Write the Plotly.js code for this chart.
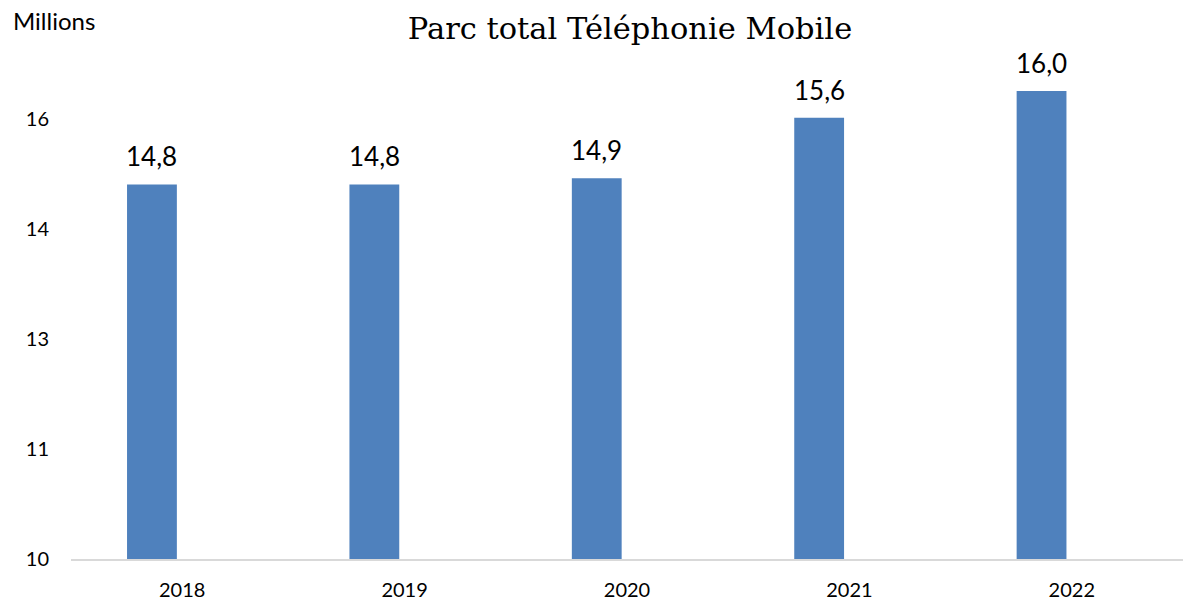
<!DOCTYPE html>
<html>
<head>
<meta charset="utf-8">
<script src="https://cdn.plot.ly/plotly-3.0.1.min.js"></script>
<style>html,body{margin:0;padding:0;background:#fff;}#chart{width:1183px;height:600px;}</style>
</head>
<body>
<div id="chart"></div>
<script>
var years = ['2018', '2019', '2020', '2021', '2022'];
var parc = [14.77, 14.77, 14.85, 15.62, 15.96];
var labels = ['14,8', '14,8', '14,9', '15,6', '16,0'];
var chartTitle = 'Parc total Téléphonie Mobile';
var unitLabel = 'Millions';

var barWidth = 0.224;
var barOffset = -0.248;

var trace = {
  type: 'bar',
  x: years,
  y: parc,
  width: barWidth,
  offset: barOffset,
  marker: {color: '#4F81BD'},
  hoverinfo: 'skip'
};

var annotations = years.map(function (yr, i) {
  return {
    x: i + barOffset + barWidth / 2,
    y: parc[i],
    xref: 'x', yref: 'y',
    text: labels[i],
    showarrow: false,
    yanchor: 'bottom',
    yshift: 10,
    font: {family: 'Lato, sans-serif', size: 26, color: '#000'}
  };
});
annotations.push({
  xref: 'paper', yref: 'paper',
  x: (11 - 71) / 1112, y: (559 - 21) / 534,
  xanchor: 'left', yanchor: 'middle',
  text: unitLabel, showarrow: false,
  font: {family: 'Lato, sans-serif', size: 24, color: '#000'}
});

var layout = {
  width: 1183, height: 600,
  margin: {l: 71, r: 0, t: 25, b: 41},
  paper_bgcolor: '#fff', plot_bgcolor: '#fff',
  separators: ', ',
  showlegend: false,
  title: {
    text: chartTitle,
    x: 630 / 1183, xref: 'container', xanchor: 'center',
    y: 1 - 28 / 600, yref: 'container', yanchor: 'middle',
    font: {family: 'DejaVu Serif, serif', size: 30.5, color: '#000'}
  },
  xaxis: {
    type: 'category',
    range: [-0.5, 4.5],
    showline: true, linecolor: '#D9D9D9', linewidth: 2,
    showgrid: false, zeroline: false, ticks: '',
    ticklabelstandoff: 12,
    tickfont: {family: 'Lato, sans-serif', size: 20, color: '#000'}
  },
  yaxis: {
    range: [10, 16.8],
    tick0: 10, dtick: 1.4, tickformat: '.0f',
    showline: false, showgrid: false, zeroline: false, ticks: '',
    ticklabelstandoff: 21,
    tickfont: {family: 'Lato, sans-serif', size: 20, color: '#000'}
  },
  annotations: annotations
};

Plotly.newPlot('chart', [trace], layout, {displayModeBar: false, staticPlot: true});
</script>
</body>
</html>
